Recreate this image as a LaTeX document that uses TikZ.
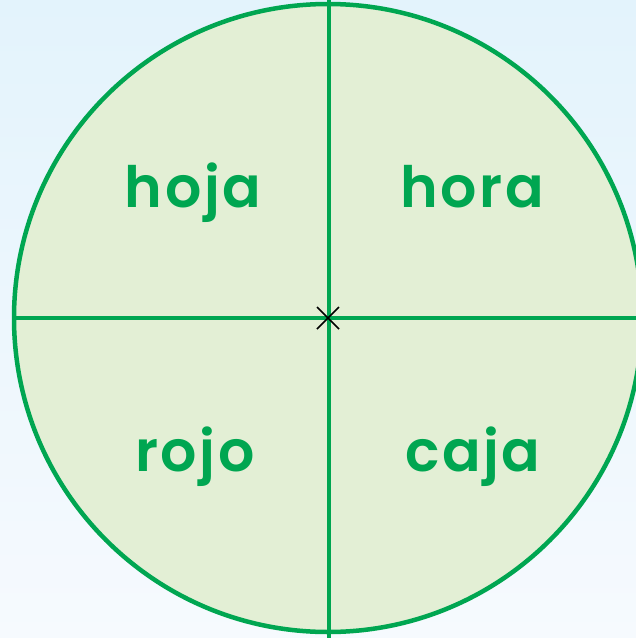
\documentclass[tikz,border=0pt]{standalone}
\usepackage{fontspec}
\setmainfont{Poppins}
\newfontfamily\wordfont{Poppins SemiBold}[LetterSpace=4.5]
\usetikzlibrary{positioning}
\definecolor{ringgreen}{HTML}{00A651}
\definecolor{sectorfill}{HTML}{E3EFD5}
\definecolor{skytop}{HTML}{E3F3FC}
\definecolor{skybottom}{HTML}{F6FAFE}

\begin{document}
\begin{tikzpicture}[
    x=1pt, y=-1pt,
    ring/.style={draw=ringgreen, line width=4.5pt, fill=sectorfill},
    divider/.style={draw=ringgreen, line width=4.5pt},
    word/.style={text=ringgreen, font=\wordfont\fontsize{57}{60}\selectfont, anchor=base, inner sep=0pt}
]
\useasboundingbox (0,0) rectangle (636,638);
\clip (0,0) rectangle (636,638);

% Background
\shade[top color=skytop, bottom color=skybottom] (0,0) rectangle (636,638);

% Circle
\coordinate (centre) at (328,318);
\path[ring] (centre) circle[radius=314];
\coordinate (top) at (329,0);
\coordinate (bottom) at (329,638);
\coordinate (left) at (14,318);
\coordinate (right) at (640,318);
\draw[divider] (top) -- (bottom);
\draw[divider] (left) -- (right);
\draw[line width=1.6pt] (centre) ++(-11,-11) -- ++(22,22)
    (centre) ++(-11,11) -- ++(22,-22);

% Words
\node[word] (hoja) at (193,207) {hoja};
\node[word] (hora) at (472,207) {hora};
\node[word] (rojo) at (195,471) {rojo};
\node[word] (caja) at (473,471) {caja};
\end{tikzpicture}
\end{document}
